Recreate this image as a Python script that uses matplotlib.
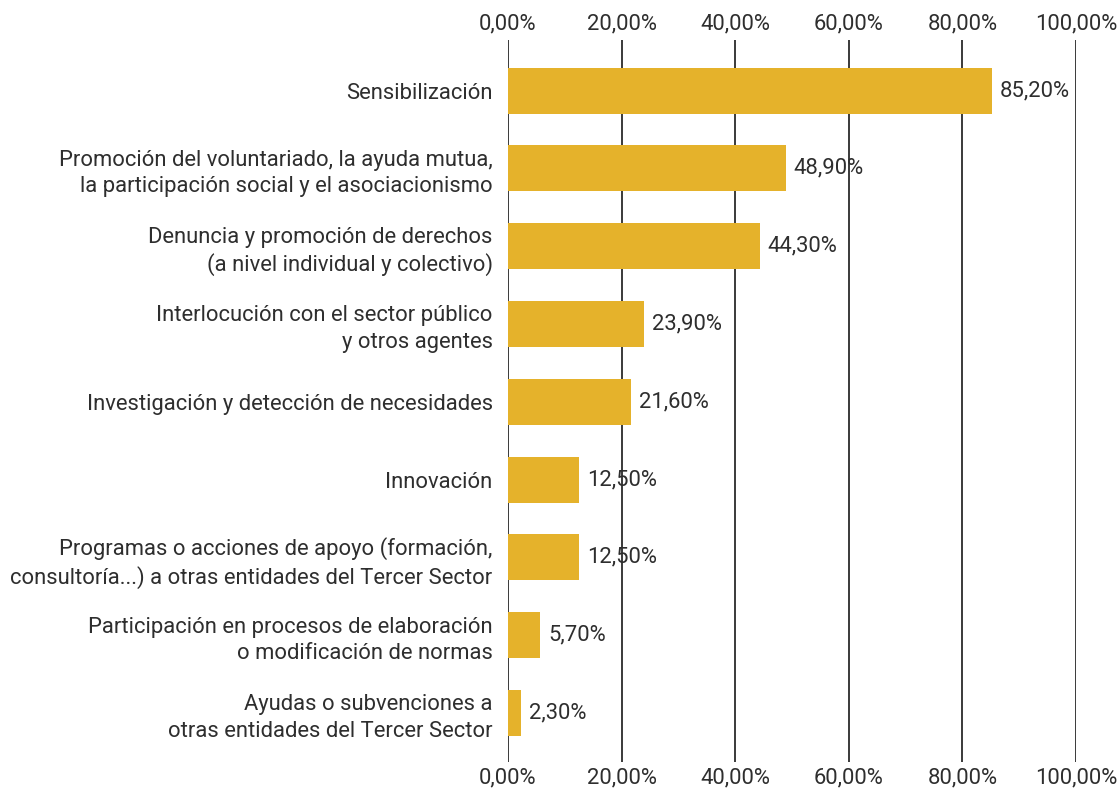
import matplotlib.pyplot as plt

plt.rcParams['font.family'] = ['Roboto', 'DejaVu Sans']

categories = [
    "Sensibilización",
    "Promoción del voluntariado, la ayuda mutua,\nla participación social y el asociacionismo",
    "Denuncia y promoción de derechos\n(a nivel individual y colectivo)",
    "Interlocución con el sector público\ny otros agentes",
    "Investigación y detección de necesidades",
    "Innovación",
    "Programas o acciones de apoyo (formación,\nconsultoría...) a otras entidades del Tercer Sector",
    "Participación en procesos de elaboración\no modificación de normas",
    "Ayudas o subvenciones a\notras entidades del Tercer Sector",
]
values = [85.2, 48.9, 44.3, 23.9, 21.6, 12.5, 12.5, 5.7, 2.3]
ticks = [0, 20, 40, 60, 80, 100]

bar_color = "#E5B22B"
text_color = "#2e2e2e"
fs = 15.8


def pct(v):
    return f"{v:.2f}%".replace(".", ",")


fig = plt.figure(figsize=(11.18, 7.91), dpi=100)
ax = fig.add_axes([0.4544, 0.0367, 0.508, 0.9127])

y = list(range(len(categories)))
ax.barh(y, values, height=0.59, color=bar_color, zorder=3)
for yi, v in zip(y, values):
    ax.text(v + 1.4, yi, pct(v), va="center", ha="left", fontsize=fs,
            color=text_color, zorder=4)

ax.set_xlim(0, 100)
ax.set_ylim(len(categories) - 1 + 0.63, -0.65)
ax.set_xticks(ticks)
ax.set_xticklabels([pct(t) for t in ticks])
ax.set_yticks(y)
ax.set_yticklabels(categories, ha="right", linespacing=1.32)
ax.tick_params(axis="x", top=True, labeltop=True, bottom=True, labelbottom=True,
               length=0, labelsize=fs, labelcolor=text_color, pad=4)
ax.tick_params(axis="y", length=0, labelsize=fs, labelcolor=text_color, pad=11)
for s in ax.spines.values():
    s.set_visible(False)
ax.grid(axis="x", color="#3a3a3a", linewidth=1.4, zorder=1)
ax.set_axisbelow(True)

fig.savefig("out.png", dpi=100)
